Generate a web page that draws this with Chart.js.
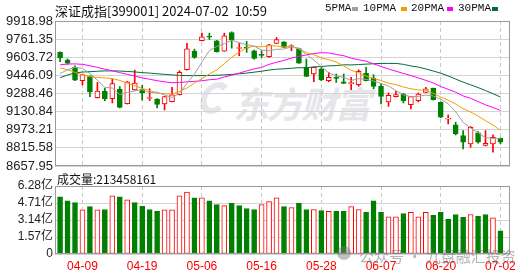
<!DOCTYPE html>
<html lang="zh">
<head>
<meta charset="utf-8">
<title>深证成指 日K</title>
<script src="https://cdn.jsdelivr.net/npm/chart.js@4.4.1/dist/chart.umd.min.js"></script>
<style>
  html, body { margin: 0; padding: 0; background: #fff; }
  #wrap { position: relative; width: 530px; height: 276px; overflow: hidden; background: #fff; }
  #wrap canvas { position: absolute; left: 0; }
  .txt { position: absolute; white-space: pre; line-height: 1; }
  #title { left: 55px; top: 1px; font: 13px 'Noto Sans CJK SC', sans-serif; color: #111; }
  .lg { position: absolute; top: 3px; font: 11px 'Liberation Mono', monospace; line-height: 11px; color: #111; }
  .sw { position: absolute; top: 7px; width: 6px; height: 4px; }
  #volTitle { left: 57px; top: 170px; font: 12px 'Noto Sans CJK SC', sans-serif; color: #111; }
  #wmLogo { position: absolute; left: 201px; top: 82px; width: 16px; height: 20px; border: 6px solid #e6e6ea; border-right-color: transparent; border-radius: 50%; transform: skewX(-15deg); }
  #wmText { left: 233px; top: 76px; font: italic bold 36px 'Noto Sans CJK SC', sans-serif; letter-spacing: -2px; color: #e6e6ea; }
  #wmIcon { position: absolute; left: 337px; top: 246px; width: 14px; height: 14px; border-radius: 50%; background: rgba(120,120,120,.45); }
  #wmBottom { left: 359px; top: 245px; font: 15px 'Noto Sans CJK SC', sans-serif; color: rgba(110,110,110,.5); }
</style>
</head>
<body>
<div id="wrap">
  <div id="wmLogo"></div>
  <div class="txt" id="wmText">东方财富</div>
  <canvas id="volChart" width="530" height="104" style="top:172px"></canvas>
  <canvas id="kChart" width="530" height="180" style="top:0"></canvas>
  <div class="txt" id="title">深证成指[399001] 2024-07-02  10:59</div>
  <div class="lg" style="left:325px">5PMA</div><div class="sw" style="left:352px;background:#a0a0a0"></div>
  <div class="lg" style="left:363px">10PMA</div><div class="sw" style="left:401px;background:#f0a000"></div>
  <div class="lg" style="left:411px">20PMA</div><div class="sw" style="left:447px;background:#ff00ff"></div>
  <div class="lg" style="left:458px">30PMA</div><div class="sw" style="left:492px;background:#006d35"></div>
  <div class="txt" id="volTitle">成交量:213458161</div>
  <div id="wmIcon"></div>
  <div class="txt" id="wmBottom">公众号 · 九盘融汇投资</div>
</div>
<script>
const dates = [
  '04-02','04-03','04-08','04-09','04-10','04-11','04-12','04-15','04-16','04-17',
  '04-18','04-19','04-22','04-23','04-24','04-25','04-26','04-29','04-30','05-06',
  '05-07','05-08','05-09','05-10','05-13','05-14','05-15','05-16','05-17','05-20',
  '05-21','05-22','05-23','05-24','05-27','05-28','05-29','05-30','05-31','06-03',
  '06-04','06-05','06-06','06-07','06-11','06-12','06-13','06-14','06-17','06-18',
  '06-19','06-20','06-21','06-24','06-25','06-26','06-27','06-28','07-01','07-02'
];
const openPrice = [
  9646, 9579, 9515, 9400, 9440, 9252, 9307, 9244, 9325, 9200,
  9319, 9322, 9245, 9241, 9197, 9218, 9278, 9495, 9657, 9747,
  9785, 9747, 9657, 9819, 9680, 9690, 9660, 9625, 9608, 9724,
  9738, 9697, 9680, 9515, 9458, 9501, 9400, 9422, 9391, 9375,
  9365, 9464, 9423, 9351, 9215, 9261, 9284, 9192, 9226, 9298,
  9333, 9212, 9065, 9016, 8923, 8850, 8946, 8836, 8850, 8899
];
const highPrice = [
  9650, 9590, 9530, 9455, 9443, 9385, 9333, 9414, 9348, 9394,
  9492, 9359, 9330, 9244, 9264, 9342, 9487, 9724, 9675, 9813,
  9813, 9750, 9813, 9825, 9724, 9741, 9666, 9660, 9715, 9776,
  9741, 9712, 9683, 9588, 9518, 9515, 9472, 9458, 9458, 9429,
  9495, 9515, 9452, 9371, 9293, 9307, 9290, 9264, 9293, 9342,
  9336, 9215, 9102, 9039, 8966, 9001, 8957, 8966, 8929, 8902
];
const lowPrice = [
  9565, 9541, 9400, 9363, 9261, 9249, 9226, 9206, 9163, 9197,
  9316, 9232, 9226, 9163, 9145, 9215, 9275, 9492, 9594, 9745,
  9758, 9649, 9655, 9683, 9617, 9646, 9588, 9602, 9602, 9722,
  9686, 9660, 9550, 9435, 9391, 9400, 9391, 9385, 9374, 9322,
  9351, 9397, 9328, 9197, 9177, 9258, 9206, 9154, 9215, 9296,
  9232, 9079, 9024, 8928, 8807, 8821, 8856, 8833, 8778, 8850
];
const closePrice = [
  9597, 9553, 9405, 9452, 9302, 9310, 9241, 9374, 9168, 9391,
  9380, 9293, 9248, 9194, 9261, 9276, 9472, 9677, 9602, 9781,
  9779, 9651, 9790, 9752, 9685, 9683, 9594, 9620, 9712, 9758,
  9689, 9700, 9553, 9437, 9515, 9406, 9429, 9420, 9377, 9378,
  9481, 9400, 9351, 9264, 9273, 9278, 9226, 9261, 9284, 9328,
  9235, 9082, 9068, 8937, 8865, 8995, 8865, 8856, 8908, 8865
];
const ma5 = [
  9462, 9495, 9515, 9508, 9462, 9404, 9342, 9336, 9279, 9297,
  9311, 9321, 9296, 9301, 9275, 9254, 9290, 9376, 9458, 9562,
  9662, 9698, 9721, 9751, 9731, 9712, 9701, 9667, 9659, 9673,
  9675, 9696, 9682, 9627, 9579, 9522, 9468, 9441, 9429, 9402,
  9417, 9411, 9397, 9375, 9354, 9313, 9278, 9260, 9264, 9275,
  9267, 9238, 9199, 9130, 9037, 8989, 8946, 8904, 8898, 8898
];
const ma10 = [
  9512, 9495, 9472, 9452, 9435, 9428, 9424, 9418, 9402, 9379,
  9358, 9332, 9316, 9290, 9286, 9283, 9306, 9336, 9379, 9418,
  9458, 9494, 9548, 9604, 9647, 9687, 9699, 9694, 9705, 9702,
  9693, 9698, 9675, 9643, 9626, 9598, 9582, 9562, 9528, 9490,
  9470, 9440, 9419, 9402, 9378, 9365, 9345, 9329, 9320, 9315,
  9290, 9258, 9230, 9197, 9156, 9128, 9092, 9052, 9014, 8968
];
const ma20 = [
  9538, 9545, 9546, 9542, 9530, 9515, 9500, 9486, 9470, 9455,
  9440, 9425, 9412, 9400, 9390, 9382, 9384, 9390, 9394, 9399,
  9408, 9413, 9432, 9447, 9466, 9485, 9503, 9515, 9542, 9560,
  9576, 9596, 9611, 9624, 9636, 9643, 9641, 9628, 9617, 9596,
  9582, 9569, 9547, 9523, 9502, 9482, 9463, 9445, 9424, 9403,
  9380, 9349, 9325, 9300, 9267, 9247, 9218, 9190, 9167, 9141
];
const ma30 = [
  9425, 9450, 9468, 9475, 9478, 9482, 9485, 9485, 9484, 9480,
  9476, 9470, 9466, 9460, 9455, 9450, 9446, 9444, 9444, 9444,
  9445, 9447, 9450, 9455, 9460, 9466, 9474, 9482, 9492, 9500,
  9503, 9508, 9513, 9512, 9520, 9523, 9529, 9531, 9538, 9537,
  9540, 9544, 9547, 9550, 9550, 9550, 9542, 9528, 9518, 9502,
  9484, 9465, 9441, 9414, 9387, 9364, 9340, 9314, 9287, 9258
];
// 成交量, 单位: 亿
const volume = [
  5.28, 4.92, 4.74, 4.08, 4.38, 4.08, 4.11, 5.38, 5.28, 5.01,
  4.74, 4.41, 4.11, 3.93, 4.08, 4.08, 5.38, 5.71, 5.19, 5.19,
  4.92, 4.56, 4.47, 4.68, 4.47, 4.20, 4.11, 4.56, 4.83, 5.19,
  4.38, 4.29, 4.68, 4.11, 4.11, 4.02, 3.93, 3.93, 3.93, 4.38,
  4.11, 3.84, 4.92, 3.84, 3.44, 3.44, 3.74, 3.84, 3.44, 3.84,
  3.56, 3.84, 3.20, 3.65, 3.38, 3.65, 3.47, 3.65, 3.35, 2.13
];
const prevClose = 9660; // 04-01 close, only used for the first volume colour
const priceTicks = [8657.95, 8815.58, 8973.21, 9130.84, 9288.46, 9446.09, 9603.72, 9761.35, 9918.98];
const volTicks = [0, 1.57, 3.14, 4.71, 6.28];
const dateTicks = ['04-09', '04-19', '05-06', '05-16', '05-28', '06-07', '06-20', '07-02'];

const RED = '#ff0000';
const GREEN = '#008000';
const xMin = -0.68, xMax = 60.28;
const tickIdx = dateTicks.map(d => dates.indexOf(d));
const candleUp = closePrice.map((c, i) => c >= openPrice[i]);
const volUp = closePrice.map((c, i) => c > (i ? closePrice[i - 1] : prevClose));

Chart.defaults.font.family = "'Liberation Sans', 'Noto Sans CJK SC', sans-serif";
Chart.defaults.color = '#222';

// grey box round the plot area
const framePlugin = {
  id: 'frame',
  afterDraw(chart) {
    const {ctx, chartArea: a} = chart;
    ctx.save();
    ctx.strokeStyle = '#9a9a9a';
    ctx.lineWidth = 1;
    ctx.strokeRect(a.left + 0.5, a.top + 0.5, a.right - a.left - 1, a.bottom - a.top - 1);
    ctx.restore();
  }
};

function xAxis(showLabels) {
  return {
    type: 'linear',
    min: xMin,
    max: xMax,
    offset: false,
    afterBuildTicks: s => { s.ticks = tickIdx.map(v => ({value: v})); },
    grid: { color: '#c8c8c8', drawTicks: false, offset: false },
    border: { display: false, dash: [4, 3] },
    ticks: showLabels
      ? { color: RED, font: {size: 12}, padding: 5, maxRotation: 0, autoSkip: false, callback: v => dates[v] }
      : { display: false },
    afterFit: s => { s.height = showLabels ? 22 : 0; }
  };
}

function yAxisFit(s) { s.width = 55; }

new Chart(document.getElementById('kChart'), {
  type: 'bar',
  data: {
    datasets: [
      {
        type: 'line', label: '5PMA', order: 1,
        data: ma5.map((v, i) => ({x: i, y: v})),
        borderColor: '#a0a0a0', borderWidth: 1, pointRadius: 0
      },
      {
        type: 'line', label: '10PMA', order: 1,
        data: ma10.map((v, i) => ({x: i, y: v})),
        borderColor: '#f0a000', borderWidth: 1, pointRadius: 0
      },
      {
        type: 'line', label: '20PMA', order: 1,
        data: ma20.map((v, i) => ({x: i, y: v})),
        borderColor: '#ff00ff', borderWidth: 1, pointRadius: 0
      },
      {
        type: 'line', label: '30PMA', order: 1,
        data: ma30.map((v, i) => ({x: i, y: v})),
        borderColor: '#006d35', borderWidth: 1, pointRadius: 0
      },
      {
        label: 'body', order: 2, grouped: false,
        data: openPrice.map((o, i) => ({x: i, y: [o, closePrice[i]]})),
        backgroundColor: candleUp.map(u => u ? '#ffffff' : GREEN),
        borderColor: candleUp.map(u => u ? RED : GREEN),
        borderWidth: 1, borderSkipped: false, barThickness: 5, minBarLength: 1
      },
      {
        label: 'wick', order: 3, grouped: false,
        data: lowPrice.map((l, i) => ({x: i, y: [l, highPrice[i]]})),
        backgroundColor: candleUp.map(u => u ? RED : GREEN),
        borderWidth: 0, barThickness: 1
      }
    ]
  },
  options: {
    responsive: false,
    animation: false,
    events: [],
    layout: { padding: {left: 0, right: 20, top: 21, bottom: 14} },
    plugins: { legend: {display: false}, tooltip: {enabled: false} },
    scales: {
      x: xAxis(false),
      y: {
        min: 8657.95,
        max: 9918.98,
        afterBuildTicks: s => { s.ticks = priceTicks.map(v => ({value: v})); },
        afterFit: yAxisFit,
        grid: { color: '#d4d4d4', drawTicks: false },
        border: { display: false },
        ticks: { font: {size: 13}, padding: 2, autoSkip: false, callback: v => v.toFixed(2) }
      }
    }
  },
  plugins: [framePlugin]
});

new Chart(document.getElementById('volChart'), {
  type: 'bar',
  data: {
    datasets: [{
      label: '成交量',
      data: volume.map((v, i) => ({x: i, y: v})),
      backgroundColor: volUp.map(u => u ? '#ffffff' : GREEN),
      borderColor: volUp.map(u => u ? RED : GREEN),
      borderWidth: 1, borderSkipped: false, barThickness: 5
    }]
  },
  options: {
    responsive: false,
    animation: false,
    events: [],
    layout: { padding: {left: 0, right: 20, top: 14, bottom: 0} },
    plugins: { legend: {display: false}, tooltip: {enabled: false} },
    scales: {
      x: xAxis(true),
      y: {
        min: 0,
        max: 6.28,
        afterBuildTicks: s => { s.ticks = volTicks.map(v => ({value: v})); },
        afterFit: yAxisFit,
        grid: { color: '#d4d4d4', drawTicks: false },
        border: { display: false },
        ticks: { font: {size: 12}, padding: 2, autoSkip: false, callback: v => v === 0 ? '0' : v.toFixed(2) + '亿' }
      }
    }
  },
  plugins: [framePlugin]
});
</script>
</body>
</html>
